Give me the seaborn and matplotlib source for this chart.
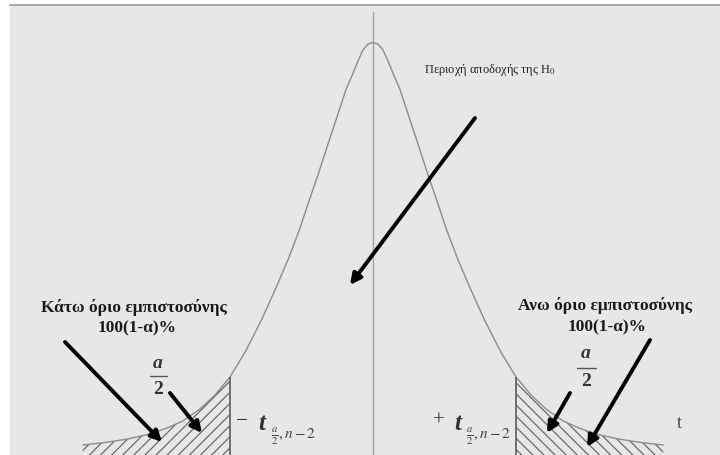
import numpy as np
import pandas as pd
import matplotlib
matplotlib.use("Agg")
import matplotlib.pyplot as plt
import seaborn as sns

# right half of the curve (t, height); left half is the mirror
t_half = [0, 0.07, 0.14, 0.21, 0.29, 0.38, 0.49, 0.62, 0.77, 0.90, 1.03, 1.19,
          1.37, 1.56, 1.78, 2.00, 2.21, 2.42, 2.66, 2.88, 3.12, 3.43, 3.75, 4.06]
dens_half = [0.4155, 0.414, 0.408, 0.397, 0.383, 0.368, 0.344, 0.316, 0.283, 0.256,
             0.228, 0.198, 0.168, 0.138, 0.107, 0.081, 0.063, 0.049, 0.037, 0.030,
             0.024, 0.019, 0.0155, 0.013]
t_crit = 2.0

t_vals = np.concatenate([-np.array(t_half[::-1]), np.array(t_half[1:])])
dens = np.concatenate([np.array(dens_half[::-1]), np.array(dens_half[1:])])
df = pd.DataFrame({'t': t_vals, 'f': dens})

sns.set_theme(style='white')
plt.rcParams['font.family'] = ['Liberation Serif', 'DejaVu Serif']
plt.rcParams['mathtext.fontset'] = 'stix'
plt.rcParams['hatch.linewidth'] = 0.9

fig = plt.figure(figsize=(7.2, 4.55), dpi=100)
fig.patch.set_facecolor('white')
ax = fig.add_axes([10 / 720, 0, 710 / 720, 450 / 455])
ax.set_facecolor('#e7e7e7')

sns.lineplot(data=df, x='t', y='f', ax=ax, color='#8c8c8c', linewidth=1.0, sort=False)

# hatched tails
left = df[df.t <= -t_crit]
right = df[df.t >= t_crit]
ax.fill_between(left.t, 0, left.f, facecolor='none', edgecolor='#6a6a6a', hatch='///', linewidth=0)
ax.fill_between(right.t, 0, right.f, facecolor='none', edgecolor='#6a6a6a', hatch='\\\\\\', linewidth=0)

f_crit = df.loc[df.t == t_crit, 'f'].iloc[0]
ax.vlines([-t_crit, t_crit], 0, f_crit, color='#666666', linewidth=1.3)
ax.axvline(0, ymax=0.984, color='#a0a0a0', linewidth=1.0)

ax.set_xlim((10 - 373) / 71.5, (720 - 373) / 71.5)
ax.set_ylim(0.003, 0.453)
ax.set_xticks([])
ax.set_yticks([])
ax.set_xlabel('')
ax.set_ylabel('')
for s in ['left', 'right', 'bottom']:
    ax.spines[s].set_visible(False)
ax.spines['top'].set_color('#9a9a9a')
ax.spines['top'].set_linewidth(1.2)


def P(x, y):
    # picture pixel (from top-left) -> figure pixels
    return (x, 455 - y)


def arrow(x0, y0, x1, y1):
    ax.annotate('', xy=P(x1, y1), xytext=P(x0, y0), xycoords='figure pixels',
                textcoords='figure pixels',
                arrowprops=dict(arrowstyle='-|>', color='black', lw=2.8,
                                mutation_scale=16, shrinkA=0, shrinkB=0))


def label(x, y, s, ha='center', **kw):
    fig.text(x / 720, 1 - y / 455, s, ha=ha, va='center', **kw)


label(490, 70, 'Περιοχή αποδοχής της H$_0$', fontsize=9, color='#222222')
arrow(475, 118, 350, 285)

label(134, 307, 'Κάτω όριο εμπιστοσύνης', fontsize=12.5, fontweight='bold', color='#1a1a1a')
label(137, 328, '100(1-α)%', fontsize=12.5, fontweight='bold', color='#1a1a1a')
label(605, 306, 'Ανω όριο εμπιστοσύνης', fontsize=12.5, fontweight='bold', color='#1a1a1a')
label(607, 327, '100(1-α)%', fontsize=12.5, fontweight='bold', color='#1a1a1a')

# a/2 fractions
label(158, 364, 'a', fontsize=14, fontstyle='italic', fontweight='bold', color='#333333')
label(158, 389, '2', fontsize=14, fontweight='bold', color='#333333')
fig.add_artist(plt.Line2D([150 / 720, 167 / 720], [1 - 376 / 455, 1 - 376 / 455],
                          color='#555555', lw=1.0))
label(586, 354, 'a', fontsize=14, fontstyle='italic', fontweight='bold', color='#333333')
label(586, 381, '2', fontsize=14, fontweight='bold', color='#333333')
fig.add_artist(plt.Line2D([577 / 720, 596 / 720], [1 - 368 / 455, 1 - 368 / 455],
                          color='#555555', lw=1.0))

arrow(65, 342, 162, 442)
arrow(170, 393, 202, 433)
arrow(570, 393, 547, 433)
arrow(650, 340, 587, 447)

# critical value labels
label(242, 421, '−', fontsize=15, color='#333333')
label(262, 423, 't', fontsize=18, fontstyle='italic', fontweight='bold', color='#333333')
label(271, 437, r'$\frac{a}{2},n-2$', ha='left', fontsize=11, color='#444444')
label(439, 421, '+', fontsize=15, color='#333333')
label(458, 423, 't', fontsize=18, fontstyle='italic', fontweight='bold', color='#333333')
label(466, 437, r'$\frac{a}{2},n-2$', ha='left', fontsize=11, color='#444444')
label(679, 423, 't', fontsize=13, color='#444444')

fig.savefig('out.png', dpi=100)
